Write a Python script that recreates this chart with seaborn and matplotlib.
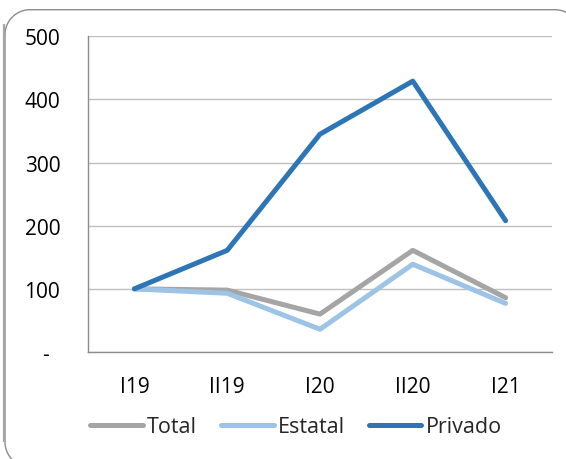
import matplotlib
matplotlib.use("Agg")
import matplotlib.pyplot as plt
from matplotlib.lines import Line2D
import seaborn as sns
import pandas as pd
import numpy as np

periods = ["I19", "II19", "I20", "II20", "I21"]
total = [100, 98, 60, 161, 86]
estatal = [100, 93, 36, 139, 77]
privado = [100, 161, 345, 429, 208]

series_names = ["Total", "Estatal", "Privado"]
series_colors = ["#A5A5A5", "#9DC3E6", "#2E75B6"]
y_ticks = [0, 100, 200, 300, 400, 500]
y_labels = ["-  ", "100", "200", "300", "400", "500"]

df = pd.DataFrame({
    "periodo": periods * 3,
    "serie": [s for s in series_names for _ in periods],
    "valor": total + estatal + privado,
})

sns.set_theme(style="white")
plt.rcParams["font.family"] = ["Open Sans", "DejaVu Sans"]

W, H = 566, 460
fig = plt.figure(figsize=(W / 100, H / 100), dpi=100)

# pixel-space background layer for the rounded chart frame
bg = fig.add_axes([0, 0, 1, 1], zorder=-1)
bg.set_xlim(0, W)
bg.set_ylim(H, 0)
bg.axis("off")


def corner(cx, cy, r, a0, a1, n=20):
    t = np.radians(np.linspace(a0, a1, n))
    return list(cx + r * np.cos(t)), list(cy + r * np.sin(t))


r = 25
left, top, right, bottom = 5.0, 10.7, 580.0, 468.0
xs, ys = [], []
cx, cy = corner(left + r, bottom - r, r, 90, 180)   # bottom-left
xs += cx; ys += cy
cx, cy = corner(left + r, top + r, r, 180, 270)     # top-left
xs += cx; ys += cy
cx, cy = corner(right - r, top + r, r, 270, 360)    # top-right
xs += cx; ys += cy
xs += [right]; ys += [bottom]
bg.plot(xs, ys, color="#8C8C8C", linewidth=1.0, clip_on=False)
bg.plot([3.5, 3.5], [25, 443], color="#A6A6A6", linewidth=1.6,
        solid_capstyle="butt")

ax = fig.add_axes([88 / W, 1 - 353 / H, (552 - 88) / W, (353 - 37.3) / H])

sns.lineplot(data=df, x="periodo", y="valor", hue="serie",
             hue_order=series_names, palette=series_colors,
             linewidth=3.6, sort=False, legend=False, ax=ax)
for ln in ax.lines:
    ln.set_solid_capstyle("round")
    ln.set_solid_joinstyle("round")

ax.set_xlim(-0.5, len(periods) - 0.5)
ax.set_ylim(0, 500)
ax.set_yticks(y_ticks)
ax.set_yticklabels(y_labels)
ax.set_xlabel("")
ax.set_ylabel("")
ax.yaxis.grid(True, color="#BFBFBF", linewidth=1.0)
ax.set_axisbelow(True)
ax.tick_params(axis="both", length=0, labelsize=15, colors="#000000")
ax.tick_params(axis="y", pad=20)
ax.tick_params(axis="x", pad=17)
for side in ["top", "right"]:
    ax.spines[side].set_visible(False)
for side in ["left", "bottom"]:
    ax.spines[side].set_color("#8C8C8C")
    ax.spines[side].set_linewidth(1.0)

handles = [Line2D([0], [0], color=c, linewidth=3.6, solid_capstyle="round")
           for c in series_colors]
fig.legend(handles, series_names, loc="center", bbox_to_anchor=(296 / W, 1 - 428 / H),
           ncol=3, frameon=False, fontsize=15.5, handlelength=2.45,
           handletextpad=0.2, columnspacing=1.1, borderpad=0)

fig.savefig("out.png", dpi=100)
